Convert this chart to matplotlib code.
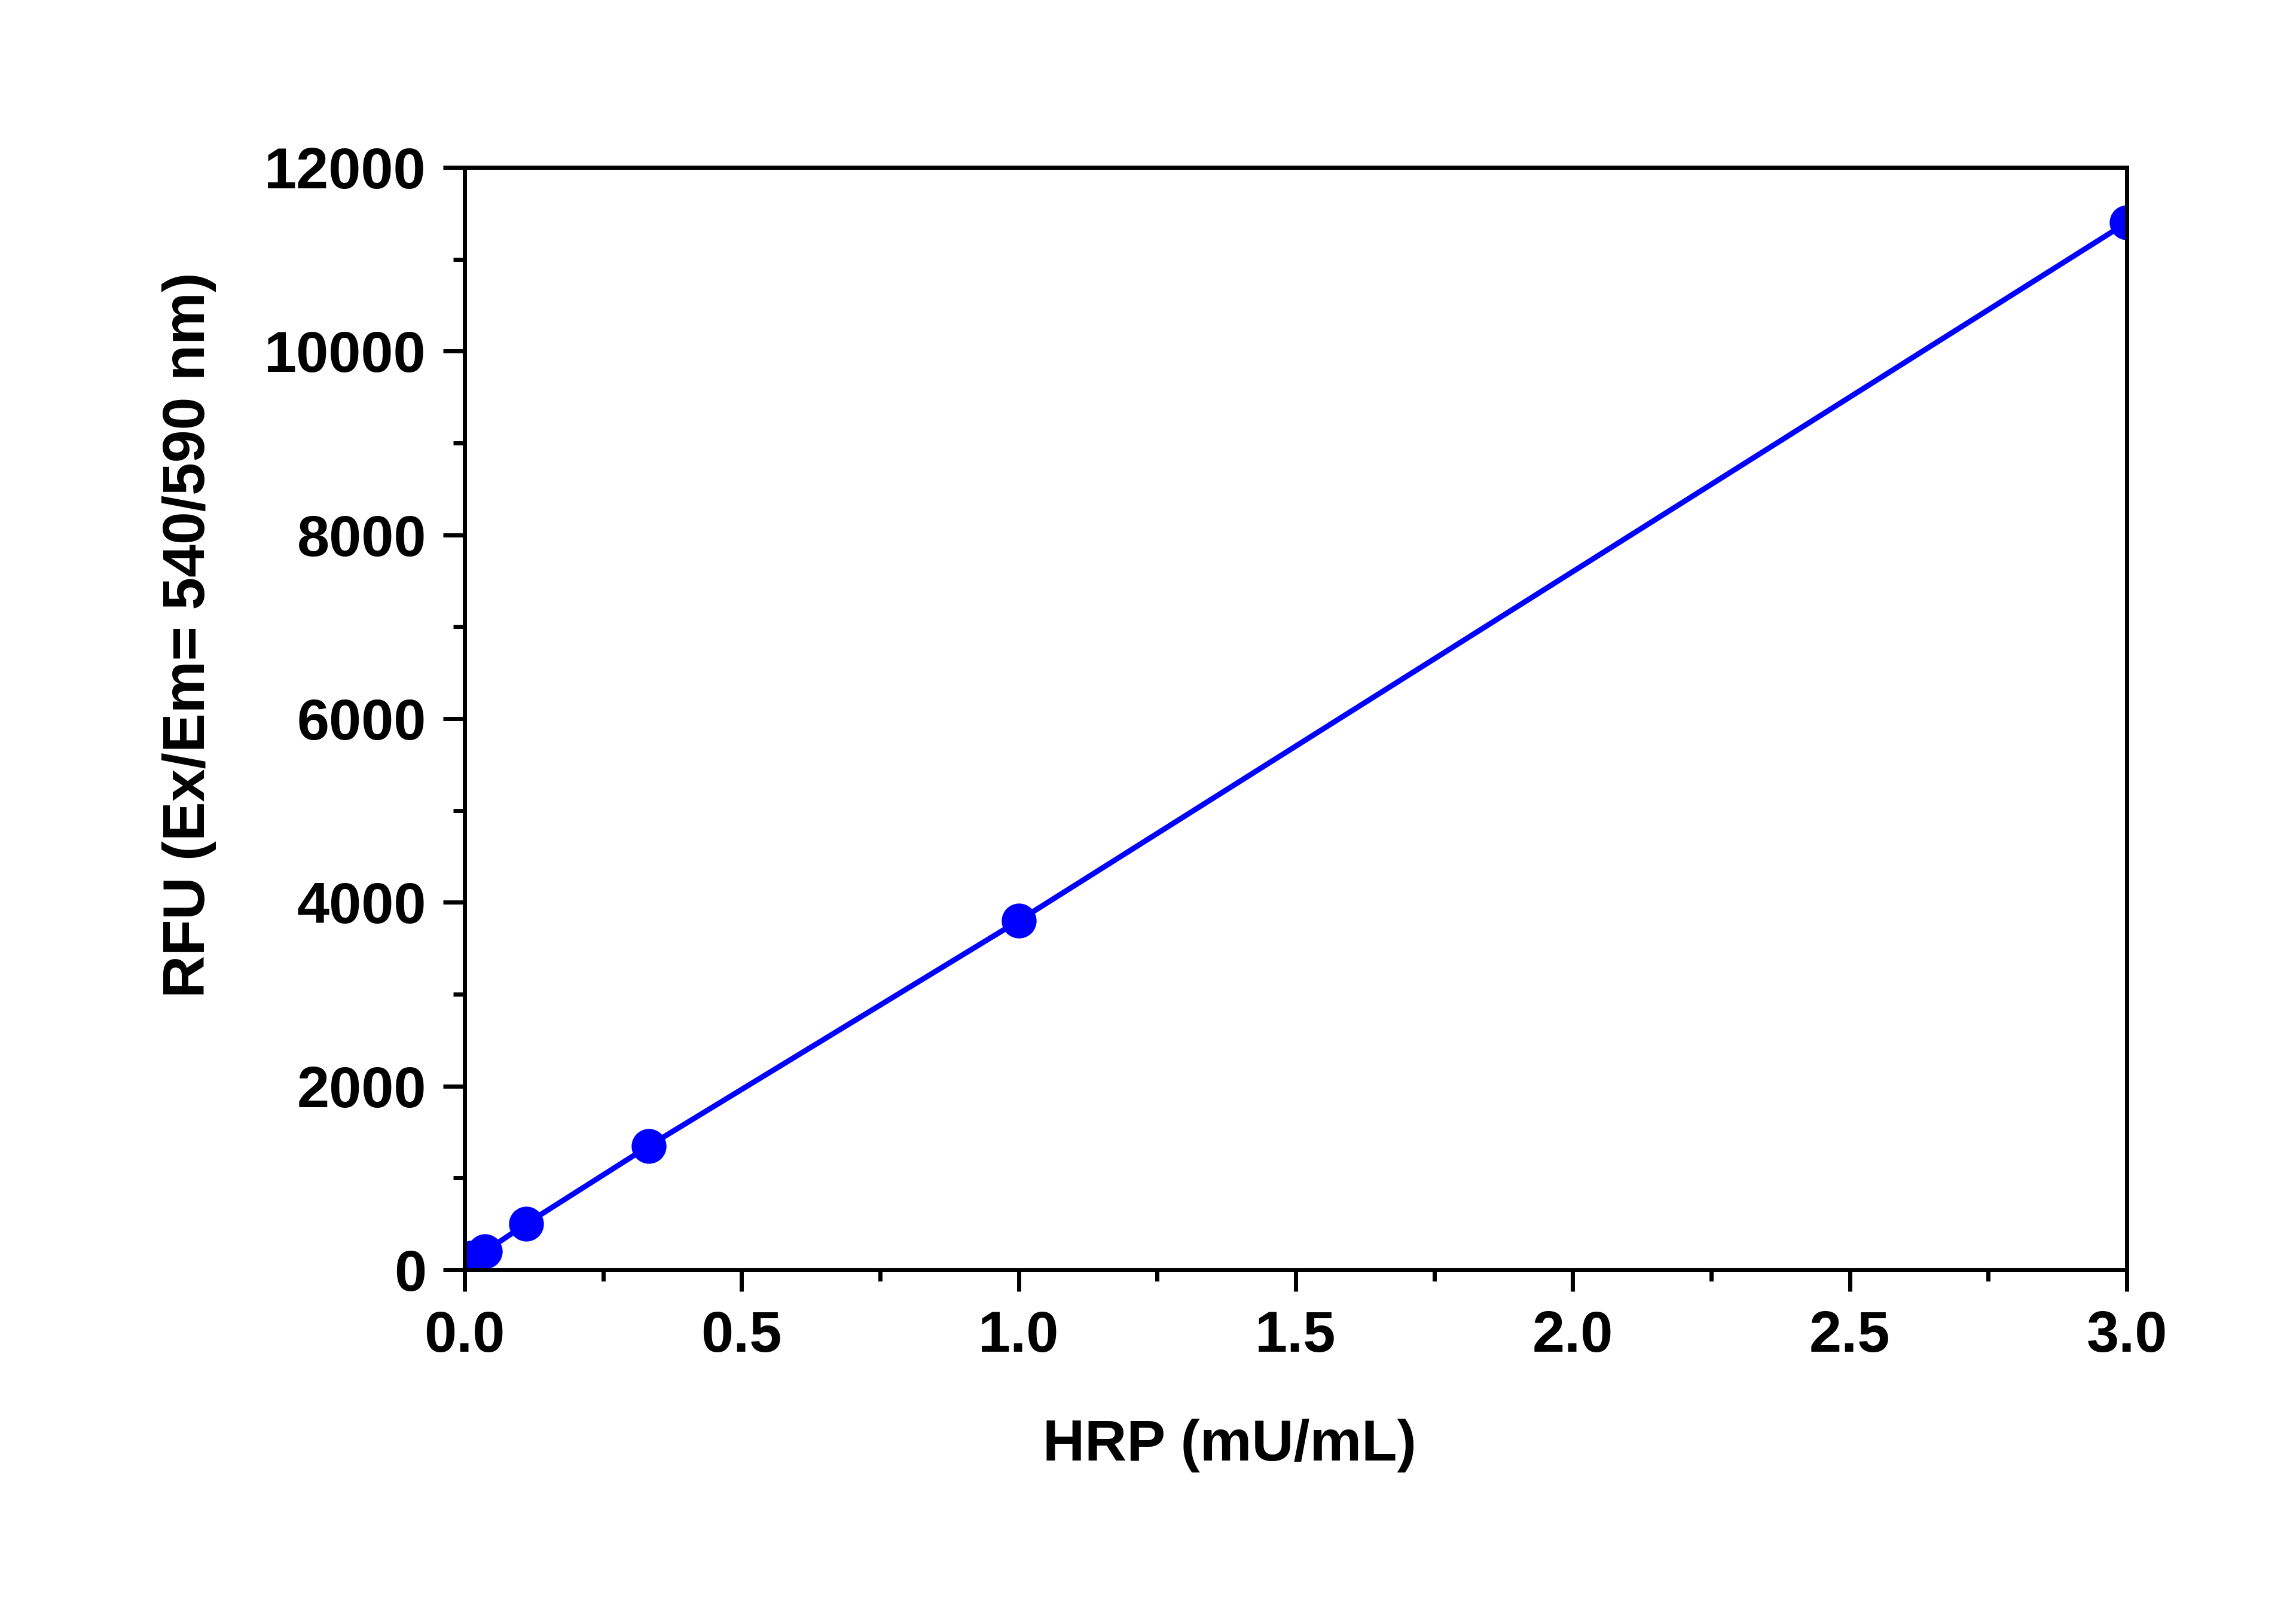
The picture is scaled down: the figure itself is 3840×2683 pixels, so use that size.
import matplotlib
matplotlib.use('Agg')
import matplotlib.pyplot as plt
from matplotlib.ticker import MultipleLocator

# HRP standard curve (3-fold dilutions)
hrp = [0, 0.0123, 0.037, 0.111, 0.333, 1.0, 3.0]
rfu = [100, 130, 200, 500, 1350, 3800, 11400]

plt.rcParams['font.family'] = ['Liberation Sans', 'DejaVu Sans']
plt.rcParams['font.weight'] = 'bold'

fig = plt.figure(figsize=(38.4, 26.83), dpi=100)
ax = fig.add_axes([0.2023, 0.2083, 0.7240, 0.6873])

ax.plot(hrp, rfu, color='#0000FF', linewidth=6.5,
        marker='o', markersize=41, markeredgecolor='#0000FF')

ax.set_xlim(0, 3.0)
ax.set_ylim(0, 12000)
ax.xaxis.set_major_locator(MultipleLocator(0.5))
ax.xaxis.set_minor_locator(MultipleLocator(0.25))
ax.yaxis.set_major_locator(MultipleLocator(2000))
ax.yaxis.set_minor_locator(MultipleLocator(1000))
ax.xaxis.set_major_formatter(plt.FuncFormatter(lambda v, p: f'{v:.1f}'))
ax.yaxis.set_major_formatter(plt.FuncFormatter(lambda v, p: f'{int(v)}'))

for s in ax.spines.values():
    s.set_linewidth(5)
ax.tick_params(which='major', direction='out', length=26, width=5,
               labelsize=70, pad=20, top=False, right=False)
ax.tick_params(which='minor', direction='out', length=14, width=5,
               top=False, right=False)
ax.tick_params(axis='x', which='major', pad=22)
for lab in ax.get_xticklabels() + ax.get_yticklabels():
    lab.set_fontweight('bold')

fig.text(2056 / 3840, 1 - 2418 / 2683, 'HRP (mU/mL)', fontsize=70,
         fontweight='bold', ha='center', va='center')
fig.text(317 / 3840, 1 - 1062 / 2683, 'RFU (Ex/Em= 540/590 nm)', fontsize=71,
         fontweight='bold', ha='center', va='center', rotation=90)

fig.savefig('out.png', dpi=100, facecolor='white')
